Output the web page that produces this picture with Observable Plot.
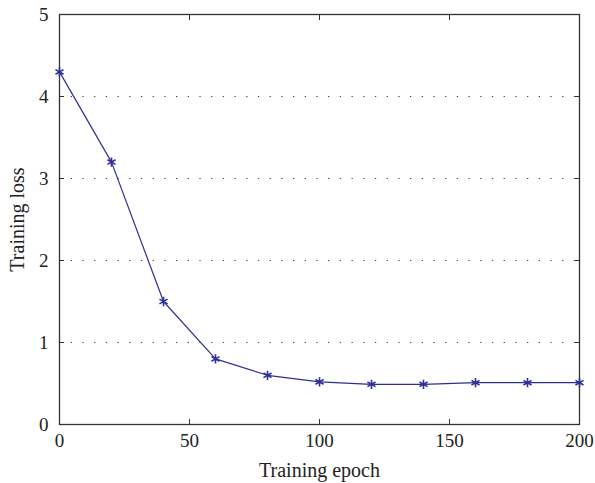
<!DOCTYPE html>
<html><head><meta charset="utf-8">
<script src="https://cdn.jsdelivr.net/npm/d3@7"></script>
<script src="https://cdn.jsdelivr.net/npm/@observablehq/plot@0.6"></script>
<style>body{margin:0;background:#fff;} svg{display:block;}</style>
</head><body><div id="chart"></div>
<script>
const epochs = [0, 20, 40, 60, 80, 100, 120, 140, 160, 180, 200];
const losses = [4.3, 3.2, 1.5, 0.8, 0.6, 0.52, 0.49, 0.49, 0.51, 0.51, 0.51];
const xTicks = [0, 50, 100, 150, 200];
const yTicks = [0, 1, 2, 3, 4, 5];
const gridValues = [1, 2, 3, 4];
const xLabel = "Training epoch";
const yLabel = "Training loss";

const data = epochs.map((e, i) => ({epoch: e, loss: losses[i]}));
const font = "Liberation Serif, Times New Roman, serif";
const ink = "#2f2f96";

const chart = Plot.plot({
  width: 595, height: 483,
  marginLeft: 59, marginRight: 16, marginTop: 14, marginBottom: 59,
  style: {fontFamily: font, fontSize: "19px", color: "#222", background: "#fff"},
  x: {domain: [0, 200]},
  y: {domain: [0, 5]},
  marks: [
    Plot.gridY(gridValues, {stroke: "#444", strokeOpacity: 1, strokeDasharray: "1.3,10.4"}),
    Plot.axisX(xTicks, {anchor: "bottom", tickSize: -5, tickPadding: 14, tickFormat: d3.format("d"), label: null, stroke: "#333", fontSize: 19}),
    Plot.axisX(xTicks, {anchor: "top", tickSize: -5, tickFormat: () => "", label: null, stroke: "#333"}),
    Plot.axisY(yTicks, {anchor: "left", tickSize: -5, tickPadding: 16, tickFormat: d3.format("d"), label: null, stroke: "#333", fontSize: 19}),
    Plot.axisY(yTicks, {anchor: "right", tickSize: -5, tickFormat: () => "", label: null, stroke: "#333"}),
    Plot.frame({stroke: "#333", strokeWidth: 1.3}),
    Plot.line(data, {x: "epoch", y: "loss", stroke: ink, strokeWidth: 1.2}),
    Plot.dot(data, {x: "epoch", y: "loss", symbol: "asterisk", r: 4.4, stroke: ink, strokeWidth: 1.6}),
    Plot.text([xLabel], {frameAnchor: "bottom", textAnchor: "middle", dy: 52, text: d => d, fontSize: 20, fill: "#222"}),
    Plot.text([yLabel], {frameAnchor: "left", textAnchor: "middle", dx: -42, rotate: -90, text: d => d, fontSize: 20, fill: "#222"})
  ]
});
document.getElementById("chart").append(chart);
</script>
</body></html>
